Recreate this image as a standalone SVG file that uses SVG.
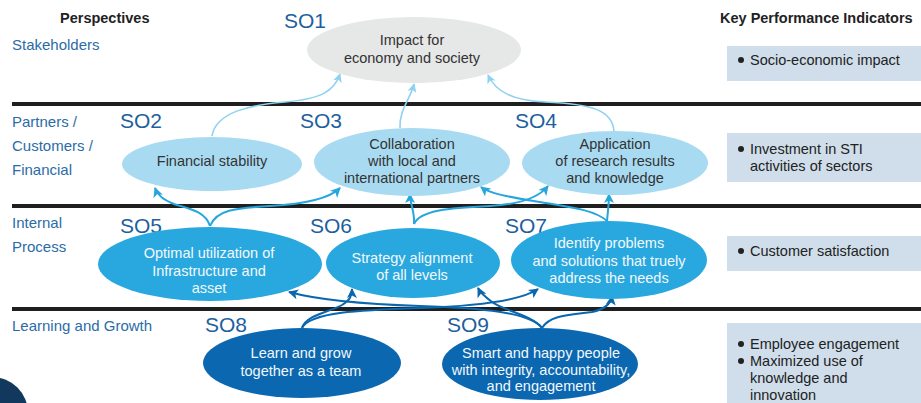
<svg xmlns="http://www.w3.org/2000/svg" width="921" height="403" viewBox="0 0 921 403">
<style>
text{font-family:"Liberation Sans",Arial,sans-serif}
.hd{font-size:14.5px;font-weight:bold;fill:#222}
.pl{font-size:15px;fill:#2b6ca6}
.so{font-size:21px;fill:#1e5f9e}
.nt{font-size:14.5px;fill:#333;text-anchor:middle}
.nw{font-size:14.5px;fill:#f2f8fc;text-anchor:middle}
.kt{font-size:14.5px;fill:#222}
.kbox{fill:#cfdeea}
.bar{fill:#1f1f1f}
.c1{fill:none;stroke:#8fd2f0;stroke-width:1.6;marker-end:url(#m1)}
.c2{fill:none;stroke:#27a6de;stroke-width:2;marker-end:url(#m2)}
.c3{fill:none;stroke:#0b67ad;stroke-width:2;marker-end:url(#m3)}
</style>
<defs>
<marker id="m1" viewBox="0 0 10 10" refX="9" refY="5" markerWidth="10" markerHeight="9" markerUnits="userSpaceOnUse" orient="auto"><path d="M0,0 L10,5 L0,10 L2.5,5 z" fill="#8fd2f0"/></marker>
<marker id="m2" viewBox="0 0 10 10" refX="9" refY="5" markerWidth="11" markerHeight="10" markerUnits="userSpaceOnUse" orient="auto"><path d="M0,0 L10,5 L0,10 L2.5,5 z" fill="#27a6de"/></marker>
<marker id="m3" viewBox="0 0 10 10" refX="9" refY="5" markerWidth="11" markerHeight="10" markerUnits="userSpaceOnUse" orient="auto"><path d="M0,0 L10,5 L0,10 L2.5,5 z" fill="#0b67ad"/></marker>
</defs>
<rect width="921" height="403" fill="#ffffff"/>
<circle cx="-8" cy="413" r="36" fill="#13385e"/>
<g id="bars">
<rect class="bar" x="12" y="102" width="909" height="4"/>
<rect class="bar" x="12" y="204" width="909" height="4"/>
<rect class="bar" x="12" y="307" width="909" height="4"/>
</g>
<g id="headers">
<text class="hd" x="60" y="23">Perspectives</text>
<text class="hd" x="720" y="23">Key Performance Indicators</text>
</g>
<g id="perspectives">
<text class="pl" x="12" y="50">Stakeholders</text>
<text class="pl" x="12" y="127">Partners /</text>
<text class="pl" x="12" y="151">Customers /</text>
<text class="pl" x="12" y="175">Financial</text>
<text class="pl" x="12" y="228">Internal</text>
<text class="pl" x="12" y="252">Process</text>
<text class="pl" x="12" y="331">Learning and Growth</text>
</g>
<g id="connectors">
<path class="c1" d="M212,136 C216,112 250,105 285,102 C320,99 334,92 340,74"/>
<path class="c1" d="M400,128 C399,110 410,100 414,84"/>
<path class="c1" d="M614,131 C612,110 592,104 545,102 C512,100 496,92 488,75"/>
<path class="c2" d="M210,226 C205,210 185,208 174,204 C164,200 158,196 155,188"/>
<path class="c2" d="M210,226 C216,210 235,208 270,206 C305,204 330,198 340,188"/>
<path class="c2" d="M414,224 C415,212 410,204 410,194"/>
<path class="c2" d="M414,224 C420,210 450,208 490,206 C525,204 540,196 548,186"/>
<path class="c2" d="M607,221 C608,210 609,203 609,194"/>
<path class="c2" d="M607,221 C595,210 570,207 540,202 C510,197 490,194 481,187"/>
<path class="c3" d="M302,328 C306,315 330,312 342,305 C350,300 352,296 352,289"/>
<path class="c3" d="M302,328 C310,312 360,310 420,308 C480,306 522,300 538,289"/>
<path class="c3" d="M542,328 C530,312 480,308 420,306 C360,304 318,300 289,292"/>
<path class="c3" d="M542,328 C532,315 502,310 492,302 C484,296 480,292 478,288"/>
<path class="c3" d="M542,328 C550,315 570,315 592,312 C606,309 611,303 612,296"/>
</g>
<g id="SO1">
<text class="so" x="284" y="28">SO1</text>
<ellipse cx="414" cy="50" rx="107" ry="33" fill="#e6e7e7"/>
<text class="nt" x="412" y="45">Impact for</text>
<text class="nt" x="412" y="63">economy and society</text>
</g>
<g id="SO2">
<text class="so" x="120" y="128">SO2</text>
<ellipse cx="212" cy="164" rx="90" ry="27" fill="#a8dbf2"/>
<text class="nt" x="212" y="166">Financial stability</text>
</g>
<g id="SO3">
<text class="so" x="300" y="128">SO3</text>
<ellipse cx="412" cy="162" rx="98" ry="34" fill="#a8dbf2"/>
<text class="nt" x="412" y="149">Collaboration</text>
<text class="nt" x="412" y="166">with local and</text>
<text class="nt" x="412" y="183">international partners</text>
</g>
<g id="SO4">
<text class="so" x="515" y="128">SO4</text>
<ellipse cx="615" cy="163" rx="93" ry="32" fill="#a8dbf2"/>
<text class="nt" x="615" y="149">Application</text>
<text class="nt" x="615" y="166">of research results</text>
<text class="nt" x="615" y="183">and knowledge</text>
</g>
<g id="SO5">
<text class="so" x="120" y="233">SO5</text>
<ellipse cx="210" cy="264" rx="112" ry="37" fill="#29a8df"/>
<text class="nw" x="209" y="258">Optimal utilization of</text>
<text class="nw" x="209" y="275.5">Infrastructure and</text>
<text class="nw" x="209" y="293">asset</text>
</g>
<g id="SO6">
<text class="so" x="310" y="233">SO6</text>
<ellipse cx="413" cy="263" rx="87" ry="35" fill="#29a8df"/>
<text class="nw" x="412" y="263">Strategy alignment</text>
<text class="nw" x="412" y="280">of all levels</text>
</g>
<g id="SO7">
<text class="so" x="505" y="233">SO7</text>
<ellipse cx="609" cy="260" rx="98" ry="39" fill="#29a8df"/>
<text class="nw" x="609" y="248">Identify problems</text>
<text class="nw" x="609" y="266">and solutions that truely</text>
<text class="nw" x="609" y="283">address the needs</text>
</g>
<g id="SO8">
<text class="so" x="205" y="332">SO8</text>
<ellipse cx="302" cy="363" rx="99" ry="35" fill="#0b67b0"/>
<text class="nw" x="301" y="358">Learn and grow</text>
<text class="nw" x="301" y="376">together as a team</text>
</g>
<g id="SO9">
<text class="so" x="447" y="332">SO9</text>
<ellipse cx="540" cy="364" rx="98" ry="36" fill="#0b67b0"/>
<text class="nw" x="541" y="358">Smart and happy people</text>
<text class="nw" x="541" y="375">with integrity, accountability,</text>
<text class="nw" x="541" y="391">and engagement</text>
</g>
<g id="kpi1">
<rect class="kbox" x="727" y="46" width="194" height="35"/>
<circle cx="741" cy="60" r="3" fill="#222"/>
<text class="kt" x="750" y="65">Socio-economic impact</text>
</g>
<g id="kpi2">
<rect class="kbox" x="727" y="133" width="194" height="49"/>
<circle cx="741" cy="149" r="3" fill="#222"/>
<text class="kt" x="750" y="154">Investment in STI</text>
<text class="kt" x="750" y="171">activities of sectors</text>
</g>
<g id="kpi3">
<rect class="kbox" x="727" y="236" width="194" height="35"/>
<circle cx="741" cy="251" r="3" fill="#222"/>
<text class="kt" x="750" y="256">Customer satisfaction</text>
</g>
<g id="kpi4">
<rect class="kbox" x="727" y="323" width="194" height="80"/>
<circle cx="741" cy="344" r="3" fill="#222"/>
<text class="kt" x="750" y="349">Employee engagement</text>
<circle cx="741" cy="361" r="3" fill="#222"/>
<text class="kt" x="750" y="366">Maximized use of</text>
<text class="kt" x="750" y="383">knowledge and</text>
<text class="kt" x="750" y="400">innovation</text>
</g>
</svg>
